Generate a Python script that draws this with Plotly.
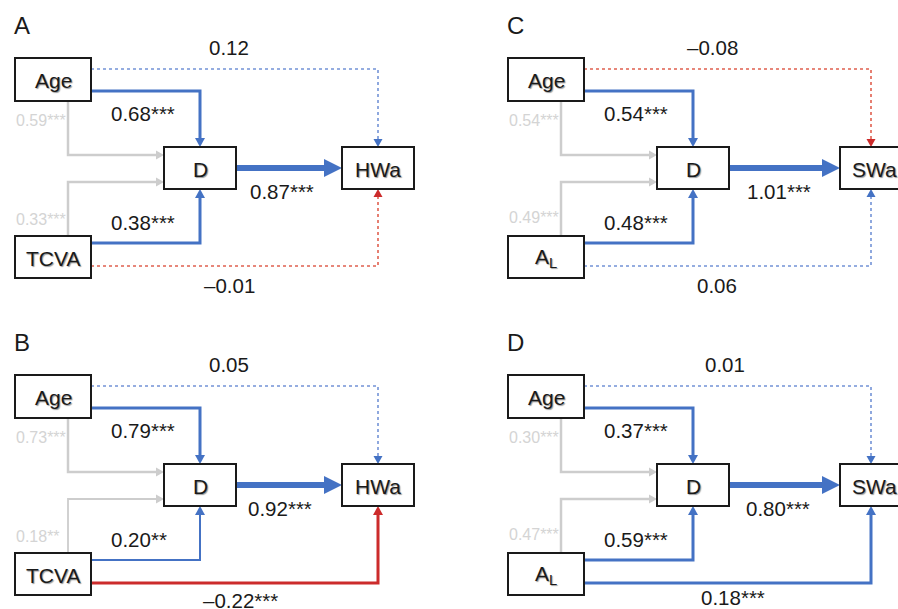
import plotly.graph_objects as go

# ---------------- data ----------------
panel_letters = ["A", "B", "C", "D"]
outcome_names = ["HWa", "HWa", "SWa", "SWa"]
second_names = ["TCVA", "TCVA", "A<sub>L</sub>", "A<sub>L</sub>"]
coef_age_d = ["0.68***", "0.79***", "0.54***", "0.37***"]
coef_x_d = ["0.38***", "0.20**", "0.48***", "0.59***"]
coef_d_out = ["0.87***", "0.92***", "1.01***", "0.80***"]
coef_age_out = ["0.12", "0.05", "–0.08", "0.01"]
coef_x_out = ["–0.01", "–0.22***", "0.06", "0.18***"]
corr_age = ["0.59***", "0.73***", "0.54***", "0.30***"]
corr_x = ["0.33***", "0.18**", "0.49***", "0.47***"]

# ---------------- layout / style ----------------
W, H = 898, 609
offsets = [(0, 0), (0, 317), (493, 0), (493, 317)]
out_left = [342, 342, 840, 840]
out_width = [72, 72, 75, 75]
out_arrow_x = [378, 378, 871, 871]
x_d_width = [3, 2, 3, 3]

BLUE = "#4472C4"
BLUE_DOT = "#7393D6"
RED = "#CC2B2B"
RED_DOT = "#E0604F"
GRAY = "#CDCDCD"
FONT = "Liberation Sans, Arial, Helvetica, sans-serif"

shapes = []
annotations = []


def line(pts, color, width, dash="solid"):
    d = "M " + " L ".join(f"{x},{y}" for x, y in pts)
    shapes.append(dict(type="path", path=d, xref="x", yref="y",
                       line=dict(color=color, width=width, dash=dash),
                       fillcolor="rgba(0,0,0,0)", layer="below"))


def head(tx, ty, direction, length, half, color):
    if direction == "down":
        p = [(tx, ty), (tx - half, ty - length), (tx + half, ty - length)]
    elif direction == "up":
        p = [(tx, ty), (tx - half, ty + length), (tx + half, ty + length)]
    else:  # right
        p = [(tx, ty), (tx - length, ty - half), (tx - length, ty + half)]
    d = "M " + " L ".join(f"{x},{y}" for x, y in p) + " Z"
    shapes.append(dict(type="path", path=d, xref="x", yref="y",
                       line=dict(color=color, width=0), fillcolor=color, layer="below"))


def arrow(pts, direction, color, width, length, half, dash="solid", hcolor=None):
    tx, ty = pts[-1]
    if direction == "down":
        end = (tx, ty - length + 1)
    elif direction == "up":
        end = (tx, ty + length - 1)
    else:
        end = (tx - length + 1, ty)
    line(pts[:-1] + [end], color, width, dash)
    head(tx, ty, direction, length, half, hcolor or color)


def box(x0, y0, x1, y1, text, tx=None):
    shapes.append(dict(type="rect", x0=x0, y0=y0, x1=x1, y1=y1, xref="x", yref="y",
                       line=dict(color="#1a1a1a", width=2), fillcolor="white", layer="above"))
    annotations.append(dict(x=(x0 + x1) / 2 if tx is None else tx, y=(y0 + y1) / 2 + 1,
                            xref="x", yref="y",
                            text=text, showarrow=False,
                            xanchor="center" if tx is None else "left", yanchor="middle",
                            font=dict(family=FONT, size=21, color="#1a1a1a",
                                      shadow="1px 1px 1px #9a9a9a")))


def label(x, y, text, size=20.5, color="#1a1a1a", anchor="left"):
    annotations.append(dict(x=x, y=y, xref="x", yref="y", text=text, showarrow=False,
                            xanchor=anchor, yanchor="middle",
                            font=dict(family=FONT, size=size, color=color)))


def style(coef):
    neg = coef.startswith("–")
    sig = "*" in coef
    if sig:
        return (RED if neg else BLUE), "solid"
    return (RED_DOT if neg else BLUE_DOT), "dot"


for i in range(4):
    dx, dy = offsets[i]
    age = (15 + dx, 58 + dy, 91 + dx, 101 + dy)
    dn = (164 + dx, 147 + dy, 236 + dx, 189 + dy)
    ob = (out_left[i], 147 + dy, out_left[i] + out_width[i], 189 + dy)
    xb = (15 + dx, 236 + dy, 91 + dx, 278 + dy)
    dcx = (dn[0] + dn[2]) / 2
    oax = out_arrow_x[i]

    # gray correlation paths
    arrow([(68 + dx, age[3]), (68 + dx, 155 + dy), (dn[0], 155 + dy)], "right", GRAY, 2.5, 8, 4.5)
    arrow([(68 + dx, xb[1]), (68 + dx, 182 + dy), (dn[0], 182 + dy)], "right", GRAY,
          2.5 if "***" in corr_x[i] else 1.8, 8, 4.5)

    # Age -> D
    c, dsh = style(coef_age_d[i])
    arrow([(age[2], 91 + dy), (dcx, 91 + dy), (dcx, dn[1])], "down", c, 3, 9, 5)
    # X -> D
    c, dsh = style(coef_x_d[i])
    arrow([(xb[2], 243 + dy), (dcx, 243 + dy), (dcx, dn[3])], "up", c, x_d_width[i], 9, 5)
    # D -> outcome
    c, dsh = style(coef_d_out[i])
    arrow([(dn[2], 168 + dy), (ob[0], 168 + dy)], "right", c, 6, 18, 9)
    # Age -> outcome
    c, dsh = style(coef_age_out[i])
    hc = RED if c == RED_DOT else (BLUE if c == BLUE_DOT else c)
    arrow([(age[2], 69 + dy), (oax, 69 + dy), (oax, ob[1])], "down", c,
          1.6 if dsh == "dot" else 3, 8, 4.5, dsh, hc)
    # X -> outcome
    c, dsh = style(coef_x_out[i])
    hc = RED if c == RED_DOT else (BLUE if c == BLUE_DOT else c)
    arrow([(xb[2], 266 + dy), (oax, 266 + dy), (oax, ob[3])], "up", c,
          1.6 if dsh == "dot" else 3, 9 if dsh == "solid" else 8, 5 if dsh == "solid" else 4.5, dsh, hc)

    # boxes
    box(*age, "Age")
    box(*dn, "D")
    box(*ob, outcome_names[i], tx=None if i < 2 else 850)
    box(*xb, second_names[i])

    # panel letter
    label(12 + dx, 25 + dy, panel_letters[i], size=24)

    # coefficient labels
    top_cx = [229, 229, 712, 725][i]
    label(top_cx, 47 + dy, coef_age_out[i], anchor="center")
    label(109 + dx, 113 + dy, coef_age_d[i])
    label(109 + dx, 222 + dy, coef_x_d[i])
    label([248, 246, 745, 744][i], 191 + dy, coef_d_out[i])
    if i % 2 == 0:
        label(top_cx if i == 0 else 717, 285 + dy, coef_x_out[i], anchor="center")
    else:
        label([201, 201, 0, 699][i], 600 if i == 1 else 597, coef_x_out[i])
    label(14 + dx, 120 + dy, corr_age[i], size=16, color="#D4D4D4")
    label(14 + dx, 219 + dy if i < 2 else 217 + dy, corr_x[i], size=16, color="#D4D4D4")

fig = go.Figure()
fig.update_layout(
    width=W, height=H,
    margin=dict(l=0, r=0, t=0, b=0),
    paper_bgcolor="white", plot_bgcolor="white",
    xaxis=dict(range=[0, W], visible=False, fixedrange=True),
    yaxis=dict(range=[H, 0], visible=False, fixedrange=True),
    shapes=shapes, annotations=annotations, showlegend=False,
)
fig.write_html("out.html", config={"displayModeBar": False},
               post_script="document.body.style.margin='0';document.body.style.overflow='hidden';")
